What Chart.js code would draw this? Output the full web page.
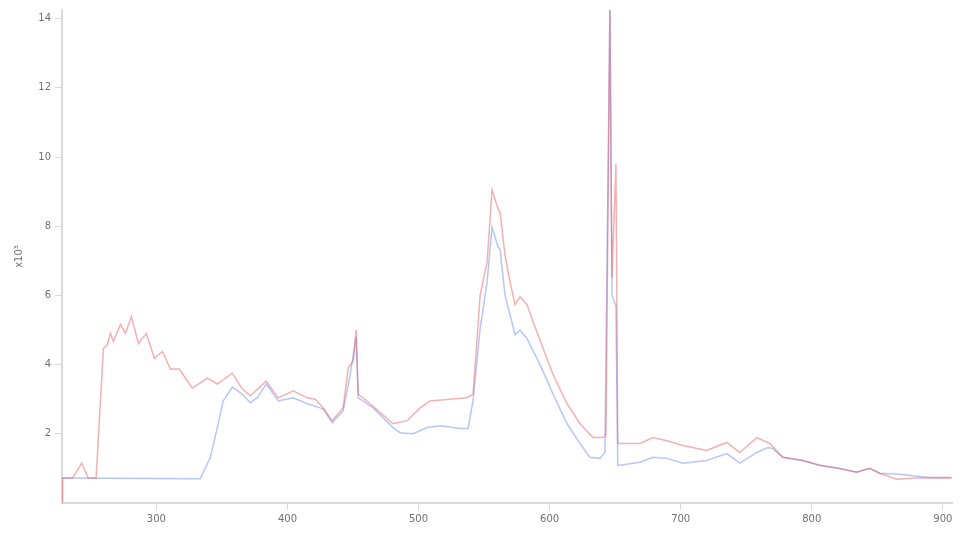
<!DOCTYPE html>
<html>
<head>
<meta charset="utf-8">
<script src="https://cdn.jsdelivr.net/npm/chart.js@4"></script>
<style>
    html, body { margin: 0; padding: 0; background: #fff; }
    #wrap { width: 969px; height: 535px; }
</style>
</head>
<body>
<div id="wrap"><canvas id="spectrum"></canvas></div>
<script>
// wavelength (nm) and irradiance (x10^3)
const redNm = [228, 228.5, 236, 243, 248, 254, 259.6, 262.7, 264.9, 267.2, 272.6, 276.4, 280.9, 286.3, 292.4, 298.5,
    304.6, 310.7, 317.5, 327.4, 338.9, 346.5, 357.9, 365.5, 371.6, 383.8, 393, 404.4, 415.1, 421.2, 427.3, 434.1,
    442.5, 446.3, 450.2, 452.4, 454, 463.1, 480.6, 491.3, 501.2, 508.8, 537, 541.6, 547, 552.3, 556.1, 560.7, 562.2,
    566, 569.8, 573.6, 577.4, 582.8, 587.3, 595, 602.6, 613.3, 623.2, 633.1, 640.7, 643, 646, 647.6, 650.6, 652,
    653.7, 668.9, 678.8, 689.5, 701.7, 719.8, 735.2, 745.1, 758.1, 768, 777.9, 793.1, 806, 821.3, 834.3, 844.2,
    851.8, 864.7, 880, 890, 906.7];
const redVal = [0, 0.72, 0.72, 1.15, 0.72, 0.72, 4.47, 4.58, 4.9, 4.67, 5.16, 4.9, 5.39, 4.61, 4.9, 4.18,
    4.38, 3.87, 3.87, 3.32, 3.61, 3.44, 3.75, 3.3, 3.1, 3.52, 3.04, 3.24, 3.04, 3.0, 2.75, 2.38,
    2.75, 3.9, 4.1, 5.0, 3.15, 2.87, 2.29, 2.38, 2.75, 2.95, 3.04, 3.15, 6.0, 6.96, 9.05, 8.5, 8.4,
    7.16, 6.39, 5.73, 5.96, 5.73, 5.24, 4.47, 3.72, 2.87, 2.29, 1.89, 1.89, 1.95, 14.3, 6.5, 9.8, 1.72,
    1.72, 1.72, 1.89, 1.8, 1.66, 1.52, 1.75, 1.46, 1.89, 1.72, 1.32, 1.23, 1.09, 1.0, 0.89, 1.0,
    0.86, 0.69, 0.72, 0.72, 0.72];

const blueNm = [228, 333.5, 341.2, 346.5, 351, 357.9, 365.5, 371.6, 377, 383.8, 393, 404.4, 415.1, 427.3, 434.1,
    442.5, 447.9, 452.4, 454, 465.4, 480.6, 486, 495.9, 506.6, 516.5, 531.7, 537.8, 541.6, 547, 552.3, 556.1,
    560.7, 562.2, 566, 569.8, 573.6, 577.4, 582.8, 592.7, 602.6, 613.3, 623.2, 630.8, 638.4, 642.2, 646, 647.6,
    650.6, 652, 653.7, 668.9, 678.8, 689.5, 701.7, 719.8, 735.2, 745.1, 758.1, 766.4, 770, 777.9, 793.1, 806,
    821.3, 834.3, 844.2, 851.8, 867, 880, 890, 906.7];
const blueVal = [0.72, 0.7, 1.32, 2.18, 2.95, 3.35, 3.15, 2.9, 3.04, 3.44, 2.95, 3.04, 2.87, 2.72, 2.32,
    2.66, 3.72, 4.8, 3.04, 2.75, 2.18, 2.03, 2.0, 2.18, 2.23, 2.15, 2.15, 2.95, 5.04, 6.39, 7.97,
    7.4, 7.33, 6.0, 5.44, 4.87, 5.0, 4.75, 4.0, 3.15, 2.29, 1.72, 1.32, 1.29, 1.46, 14.3, 6.0,
    5.7, 1.09, 1.09, 1.18, 1.32, 1.29, 1.15, 1.23, 1.43, 1.15, 1.46, 1.6, 1.58, 1.32, 1.23, 1.09,
    1.0, 0.89, 1.0, 0.86, 0.83, 0.77, 0.74, 0.74];

const xTicks = [300, 400, 500, 600, 700, 800, 900];
const yTicks = [2, 4, 6, 8, 10, 12, 14];
const yTitle = 'x10³';

const toPoints = (xs, ys) => xs.map((x, i) => ({x: x, y: ys[i]}));

const axisGrey = '#dadada';
const textGrey = '#707070';
const tickFont = {family: 'DejaVu Sans', size: 10};

new Chart(document.getElementById('spectrum').getContext('2d'), {
    type: 'line',
    data: {
        datasets: [{
            label: 'red',
            data: toPoints(redNm, redVal),
            borderColor: 'rgba(230, 80, 85, 0.45)',
            borderWidth: 1.5,
            pointRadius: 0,
            tension: 0
        }, {
            label: 'blue',
            data: toPoints(blueNm, blueVal),
            borderColor: 'rgba(80, 120, 230, 0.42)',
            borderWidth: 1.5,
            pointRadius: 0,
            tension: 0
        }]
    },
    options: {
        responsive: true,
        maintainAspectRatio: false,
        animation: false,
        layout: {padding: {top: 7, right: 17, left: 0, bottom: 0}},
        plugins: {legend: {display: false}, tooltip: {enabled: false}},
        scales: {
            x: {
                type: 'linear',
                min: 228,
                max: 907,
                afterBuildTicks: (axis) => {
                    axis.ticks = xTicks.map(v => ({value: v}));
                },
                afterFit: (axis) => { axis.height = 32; },
                border: {color: axisGrey, width: 2},
                grid: {drawOnChartArea: false, color: axisGrey, tickLength: 7, lineWidth: 1},
                ticks: {color: textGrey, font: tickFont, padding: 3, maxRotation: 0}
            },
            y: {
                min: 0,
                max: 14.25,
                afterBuildTicks: (axis) => {
                    axis.ticks = yTicks.map(v => ({value: v}));
                },
                afterFit: (axis) => { axis.width = 62; },
                border: {color: axisGrey, width: 2},
                grid: {drawOnChartArea: false, color: axisGrey, tickLength: 7, lineWidth: 1},
                ticks: {color: textGrey, font: tickFont, padding: 4},
                title: {display: true, text: yTitle, color: textGrey, font: tickFont, padding: {top: 13, bottom: 0}}
            }
        }
    }
});
</script>
</body>
</html>
